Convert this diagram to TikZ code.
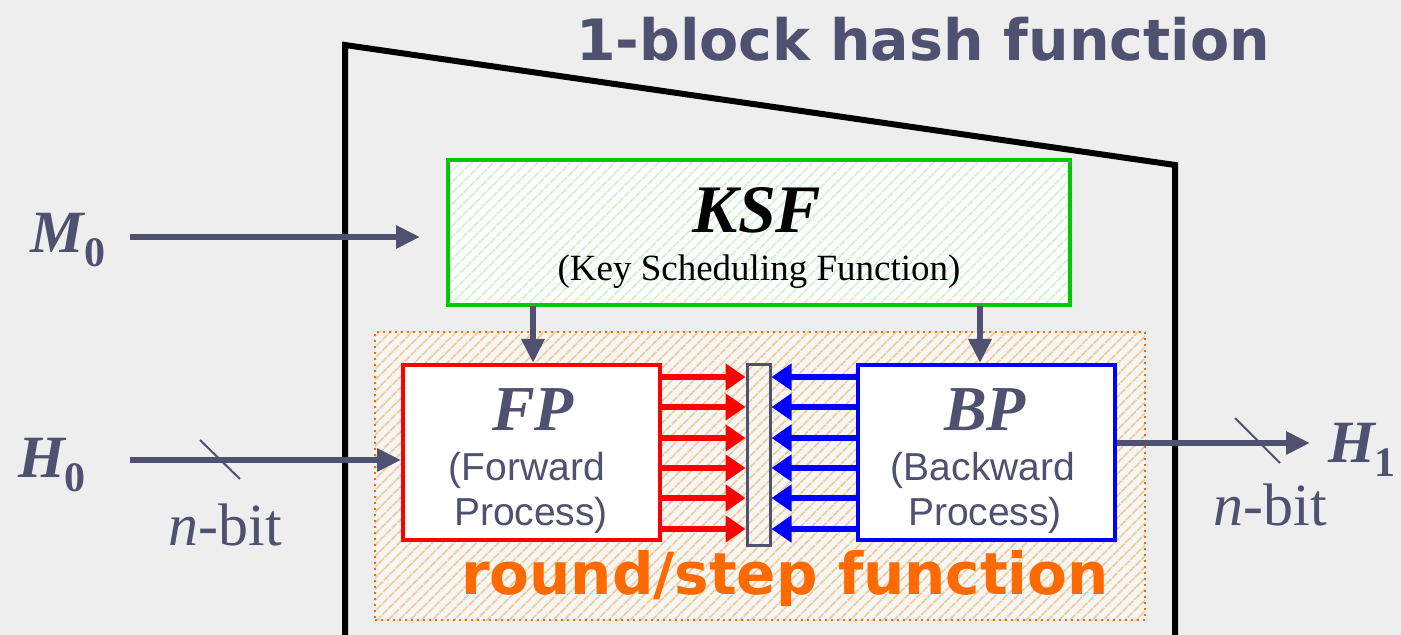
\documentclass[tikz,border=0pt]{standalone}
\usepackage{fontspec}
\setmainfont{Liberation Serif}
\newfontfamily\verd{DejaVu Sans}
\newfontfamily\arial{Liberation Sans}
\usetikzlibrary{arrows.meta,patterns.meta,calc}
\definecolor{slate}{HTML}{505070}
\definecolor{bgcol}{HTML}{EEEEEE}
\definecolor{ksfgreen}{HTML}{00C800}
\definecolor{hatchgreen}{HTML}{CFF2CF}
\definecolor{hatchorange}{HTML}{F4CC98}
\definecolor{rsorange}{HTML}{FF6A00}
\newcommand\subnum[1]{\raisebox{-7pt}{\fontsize{21}{24}\selectfont\upshape\bfseries #1}}
\tikzset{
  flow/.style={draw=slate, line width=3pt, -{Triangle[length=12pt,width=11pt]}},
  fwd/.style={draw=red, line width=3.2pt, -{Triangle[length=10pt,width=13pt]}},
  bwd/.style={draw=blue, line width=3.2pt, -{Triangle[length=10pt,width=13pt]}},
  procbox/.style={line width=2pt, fill=white, minimum width=128.5pt, minimum height=87.5pt, inner sep=0pt},
  title/.style={font=\verd\bfseries\fontsize{28.5}{34}\selectfont, text=slate},
  italbig/.style={font=\bfseries\itshape\fontsize{32}{36}\selectfont, text=slate},
  sub/.style={font=\arial\fontsize{19.5}{22}\selectfont, text=slate},
  sym/.style={font=\bfseries\itshape\fontsize{30}{32}\selectfont, text=slate},
  bits/.style={font=\fontsize{30}{34}\selectfont, text=slate},
  slash/.style={draw=slate, line width=1pt},
}
\begin{document}
\begin{tikzpicture}[x=0.5pt,y=-0.5pt]
\fill[bgcol] (0,0) rectangle (1401,635);
\useasboundingbox (0,0) rectangle (1401,635);

% outer frame of the hash function
\draw[line width=3pt, line join=miter] (1175,650) -- (1175,165) -- (345,45) -- (345,650);
\node[title] (title) at (923,39) {1-block hash function};

% key scheduling function
\node[draw=ksfgreen, line width=2pt, preaction={fill=white},
      pattern={Lines[angle=45,distance=4pt,line width=1pt]}, pattern color=hatchgreen,
      minimum width=311pt, minimum height=72.5pt, inner sep=0pt] (ksf) at (759,232.5) {};
\node[font=\bfseries\itshape\fontsize{34}{38}\selectfont] (ksft) at (757,210) {KSF};
\node[font=\fontsize{18.5}{22}\selectfont] (ksfs) at (759,272) {(Key Scheduling Function)};

% round / step function region
\node[draw=rsorange, line width=1pt, dotted, preaction={fill=bgcol!50!white},
      pattern={Lines[angle=45,distance=4pt,line width=1pt]}, pattern color=hatchorange,
      minimum width=385pt, minimum height=144pt, inner sep=0pt] (rs) at (760,476) {};
\node[font=\verd\bfseries\fontsize{29}{34}\selectfont, text=rsorange] (rst) at (785,578) {round/step function};

% forward and backward processes
\node[procbox, draw=red] (fp) at (531.5,452.5) {};
\node[italbig] (fpt) at (533,410) {FP};
\node[sub] (fps1) at (527,470) {(Forward};
\node[sub] (fps2) at (531,515) {Process)};

\node[procbox, draw=blue] (bp) at (986,452.5) {};
\node[italbig] (bpt) at (985,410) {BP};
\node[sub] (bps1) at (983,470) {(Backward};
\node[sub] (bps2) at (985,515) {Process)};

% meeting bar
\node[draw=slate, line width=1.5pt, minimum width=11.5pt, minimum height=90pt, inner sep=0pt] (bar) at (758.5,455) {};

\foreach \y in {377,407,438,468,498,529} {
  \draw[fwd] (fp.east |- 0,\y) -- (bar.west |- 0,\y);
  \draw[bwd] (bp.west |- 0,\y) -- (bar.east |- 0,\y);
}

% key schedule feeds both processes
\draw[flow] (ksf.south -| 533,0) -- (fp.north -| 533,0);
\draw[flow] (ksf.south -| 980,0) -- (bp.north -| 980,0);

% message input
\node[sym] (m0) at (68,240) {M\subnum{0}};
\coordinate (m0s) at (130,237);
\coordinate (m0e) at (420,237);
\draw[flow] (m0s) -- (m0e);

% chaining input
\node[sym] (h0) at (52,465) {H\subnum{0}};
\coordinate (h0s) at (130,460);
\draw[flow] (h0s) -- (fp.west |- h0s);
\draw[slash] (200,440) -- (240,479);
\node[bits] (nb0) at (225,525) {\textit{n}-bit};

% chaining output
\node[sym] (h1) at (1362,450) {H\subnum{1}};
\coordinate (h1e) at (1310,443);
\draw[flow] (bp.east |- h1e) -- (h1e);
\draw[slash] (1235,418) -- (1280,463);
\node[bits] (nb1) at (1270,505) {\textit{n}-bit};
\end{tikzpicture}
\end{document}
